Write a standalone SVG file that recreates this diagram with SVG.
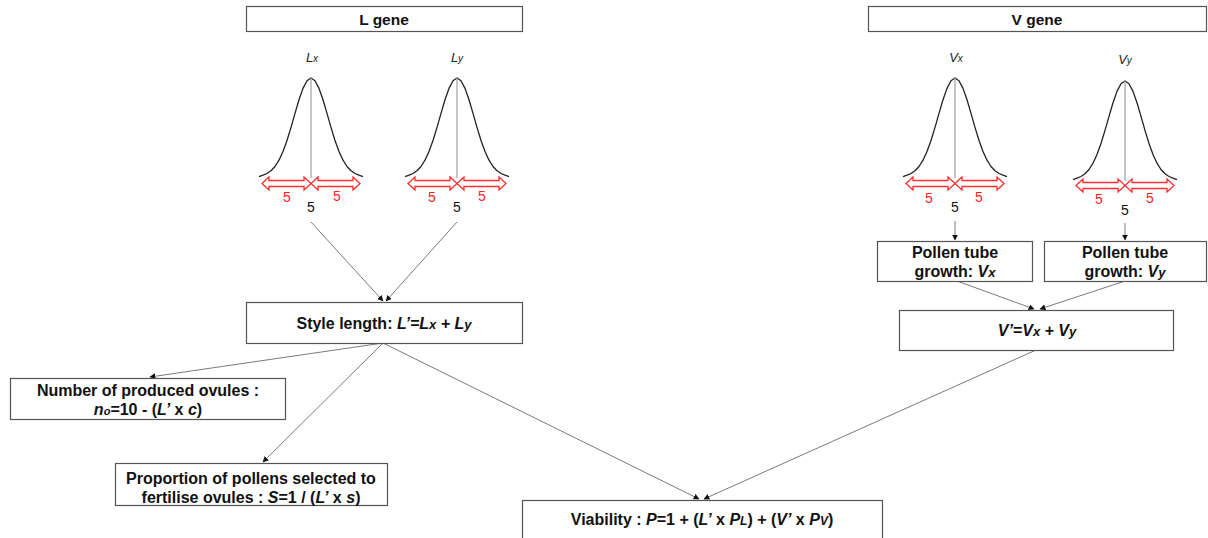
<svg xmlns="http://www.w3.org/2000/svg" width="1208" height="538" viewBox="0 0 1208 538">
<style>
  .box { fill: #ffffff; stroke: #555555; stroke-width: 1.2; }
  .t { font-family: "Liberation Sans", Arial, sans-serif; font-weight: bold; font-size: 16px; fill: #111111; text-anchor: middle; }
  .ttl { font-size: 15.5px; }
  .lab { font-family: "Liberation Sans", Arial, sans-serif; font-style: italic; font-size: 13px; fill: #222222; text-anchor: middle; }
  .num { font-family: "Liberation Sans", Arial, sans-serif; font-size: 14px; text-anchor: middle; }
  .red { fill: #ff2222; }
  .blk { fill: #111111; }
  .i { font-style: italic; }
  .curve { fill: none; stroke: #222222; stroke-width: 1.3; stroke-linejoin: round; }
  .axis { stroke: #a0a0a0; stroke-width: 1.2; }
  .darr { fill: #ffffff; stroke: #ff3030; stroke-width: 1.3; stroke-linejoin: miter; }
  .conn { stroke: #7a7a7a; stroke-width: 1; fill: none; marker-end: url(#ah); }
</style>
<defs>
  <marker id="ah" viewBox="0 0 10 10" refX="9" refY="5" markerWidth="6" markerHeight="6" orient="auto" markerUnits="userSpaceOnUse">
    <path d="M0,0 L10,5 L0,10 Z" fill="#111111"/>
  </marker>
  <path id="bell" d="M-52,98.6 L-48,97.2 L-44,95.5 L-40,92.8 L-36,88.5 L-32,82.2 L-28,73.5 L-24,62.5 L-20,49.4 L-16,35.4 L-12,21.8 L-8,10.4 L-4,2.7 L0,0 L4,2.7 L8,10.4 L12,21.8 L16,35.4 L20,49.4 L24,62.5 L28,73.5 L32,82.2 L36,88.5 L40,92.8 L44,95.5 L48,97.2 L52,98.6"/>
  <path id="arr" d="M0,0 L7,-6.5 L7,-3 L42,-3 L42,-6.5 L49,0 L42,6.5 L42,3 L7,3 L7,6.5 Z"/>
</defs>

<g id="l-gene">
  <rect class="box" x="246.5" y="6.5" width="276" height="25"/>
  <text class="t ttl" x="384" y="24.5">L gene</text>
</g>
<g id="v-gene">
  <rect class="box" x="868.5" y="6.5" width="338" height="25"/>
  <text class="t ttl" x="1037" y="24.5">V gene</text>
</g>

<g id="lx-dist">
  <text class="lab" x="312" y="62">L<tspan font-size="10">x</tspan></text>
  <use href="#bell" class="curve" transform="translate(311,78)"/>
  <line class="axis" x1="311" y1="78" x2="311" y2="178"/>
  <use href="#arr" class="darr" transform="translate(262,183.5)"/>
  <use href="#arr" class="darr" transform="translate(311,183.5)"/>
  <text class="num red" x="287" y="202">5</text>
  <text class="num red" x="337" y="201">5</text>
  <text class="num blk" x="311" y="212">5</text>
</g>
<g id="ly-dist">
  <text class="lab" x="457" y="62">L<tspan font-size="10">y</tspan></text>
  <use href="#bell" class="curve" transform="translate(457,78)"/>
  <line class="axis" x1="457" y1="78" x2="457" y2="178"/>
  <use href="#arr" class="darr" transform="translate(408,183.5)"/>
  <use href="#arr" class="darr" transform="translate(457,183.5)"/>
  <text class="num red" x="432" y="202">5</text>
  <text class="num red" x="482" y="201">5</text>
  <text class="num blk" x="457" y="212">5</text>
</g>
<g id="vx-dist">
  <text class="lab" x="956" y="62">V<tspan font-size="10">x</tspan></text>
  <use href="#bell" class="curve" transform="translate(955,78)"/>
  <line class="axis" x1="955" y1="78" x2="955" y2="178"/>
  <use href="#arr" class="darr" transform="translate(906,183.5)"/>
  <use href="#arr" class="darr" transform="translate(955,183.5)"/>
  <text class="num red" x="929" y="203">5</text>
  <text class="num red" x="979" y="202">5</text>
  <text class="num blk" x="955" y="212">5</text>
</g>
<g id="vy-dist">
  <text class="lab" x="1125" y="64">V<tspan font-size="10">y</tspan></text>
  <use href="#bell" class="curve" transform="translate(1125,81)"/>
  <line class="axis" x1="1125" y1="81" x2="1125" y2="181"/>
  <use href="#arr" class="darr" transform="translate(1076,185.5)"/>
  <use href="#arr" class="darr" transform="translate(1125,185.5)"/>
  <text class="num red" x="1099" y="204">5</text>
  <text class="num red" x="1150" y="203">5</text>
  <text class="num blk" x="1125" y="215">5</text>
</g>

<g id="connectors">
  <line class="conn" x1="311" y1="222" x2="383" y2="301"/>
  <line class="conn" x1="457" y1="222" x2="386" y2="301"/>
  <line class="conn" x1="955" y1="221" x2="955" y2="240"/>
  <line class="conn" x1="1125" y1="223" x2="1125" y2="240"/>
  <line class="conn" x1="957" y1="281" x2="1034" y2="309"/>
  <line class="conn" x1="1125" y1="281" x2="1040" y2="309"/>
  <line class="conn" x1="383" y1="343" x2="150" y2="377"/>
  <line class="conn" x1="383" y1="343" x2="263" y2="462"/>
  <line class="conn" x1="383" y1="343" x2="699" y2="499"/>
  <line class="conn" x1="1036" y1="350" x2="704" y2="499"/>
</g>

<g id="style-length">
  <rect class="box" x="246.5" y="302.5" width="276" height="41"/>
  <text class="t" x="384" y="328.5">Style length: <tspan class="i">L’=L<tspan font-size="13">x</tspan> + L<tspan font-size="13">y</tspan></tspan></text>
</g>
<g id="pollen-vx">
  <rect class="box" x="877.5" y="241.5" width="155" height="40"/>
  <text class="t" x="955" y="258">Pollen tube</text>
  <text class="t" x="955" y="277">growth: <tspan class="i">V<tspan font-size="13">x</tspan></tspan></text>
</g>
<g id="pollen-vy">
  <rect class="box" x="1044.5" y="241.5" width="162" height="40"/>
  <text class="t" x="1125" y="258">Pollen tube</text>
  <text class="t" x="1125" y="277">growth: <tspan class="i">V<tspan font-size="13">y</tspan></tspan></text>
</g>
<g id="v-prime">
  <rect class="box" x="899.5" y="310.5" width="274" height="40"/>
  <text class="t" x="1037" y="335.5"><tspan class="i">V’=V<tspan font-size="13">x</tspan> + V<tspan font-size="13">y</tspan></tspan></text>
</g>
<g id="ovules">
  <rect class="box" x="10.5" y="378.5" width="275" height="41"/>
  <text class="t" x="148" y="395.5">Number of produced ovules :</text>
  <text class="t" x="148" y="414.5"><tspan class="i">n<tspan font-size="11">o</tspan></tspan>=10 - (<tspan class="i">L’</tspan> x <tspan class="i">c</tspan>)</text>
</g>
<g id="proportion">
  <rect class="box" x="115.5" y="463.5" width="272" height="42"/>
  <text class="t" x="251" y="483.5">Proportion of pollens selected to</text>
  <text class="t" x="251" y="502.5">fertilise ovules : <tspan class="i">S</tspan>=1 / (<tspan class="i">L’</tspan> x <tspan class="i">s</tspan>)</text>
</g>
<g id="viability">
  <rect class="box" x="522.5" y="500.5" width="360" height="45"/>
  <text class="t" x="702" y="525" font-size="16.5">Viability : <tspan class="i">P</tspan>=1 + (<tspan class="i">L’</tspan> x <tspan class="i">P<tspan font-size="12">L</tspan></tspan>) + (<tspan class="i">V’</tspan> x <tspan class="i">P<tspan font-size="12">V</tspan></tspan>)</text>
</g>
</svg>
